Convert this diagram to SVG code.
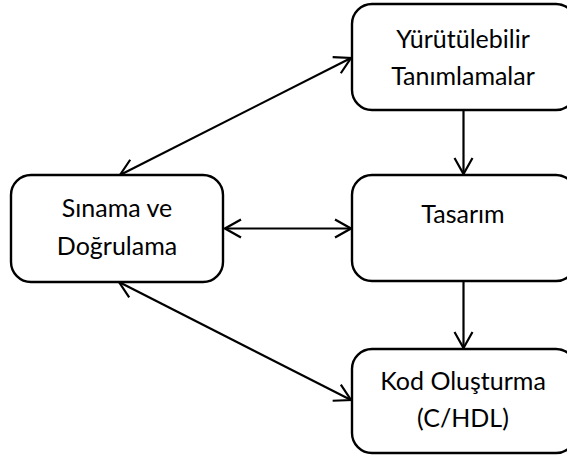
<svg xmlns="http://www.w3.org/2000/svg" width="567" height="457" viewBox="0 0 567 457">
  <style>
    .box { fill: #ffffff; stroke: #000000; stroke-width: 2.4; }
    .lbl { font-family: Lato, "Open Sans", "Liberation Sans", sans-serif; font-size: 25px; fill: #000000; text-anchor: middle; }
    .edge { stroke: #000000; stroke-width: 2.2; fill: none; }
  </style>
  <defs>
    <marker id="head" markerUnits="userSpaceOnUse" viewBox="-18 -11 20 22" markerWidth="20" markerHeight="22" refX="0" refY="0" orient="auto-start-reverse">
      <path d="M -16 -9 L 0 0 L -16 9" fill="none" stroke="#000000" stroke-width="2.2"/>
    </marker>
  </defs>

  <rect width="567" height="457" fill="#ffffff"/>

  <g id="connectors">
    <!-- spec to design -->
    <line class="edge" x1="463.5" y1="110" x2="463.5" y2="174" marker-end="url(#head)"/>
    <!-- design to code generation -->
    <line class="edge" x1="463.5" y1="281" x2="463.5" y2="348" marker-end="url(#head)"/>
    <!-- test/verification to design -->
    <line class="edge" x1="225" y1="228.5" x2="351" y2="228.5" marker-start="url(#head)" marker-end="url(#head)"/>
    <!-- test/verification to spec -->
    <line class="edge" x1="120" y1="175" x2="351" y2="58" marker-start="url(#head)" marker-end="url(#head)"/>
    <!-- test/verification to code generation -->
    <line class="edge" x1="119" y1="282" x2="351" y2="400" marker-start="url(#head)" marker-end="url(#head)"/>
  </g>

  <g id="spec">
    <rect class="box" x="352" y="4" width="224" height="106" rx="20" ry="20"/>
    <text class="lbl" x="463" y="48">Yürütülebilir</text>
    <text class="lbl" x="463" y="85">Tanımlamalar</text>
  </g>

  <g id="design">
    <rect class="box" x="352" y="175" width="224" height="106" rx="20" ry="20"/>
    <text class="lbl" x="463" y="223">Tasarım</text>
  </g>

  <g id="codegen">
    <rect class="box" x="352" y="349" width="224" height="104" rx="20" ry="20"/>
    <text class="lbl" x="463" y="390">Kod Oluşturma</text>
    <text class="lbl" x="463" y="427">(C/HDL)</text>
  </g>

  <g id="verify">
    <rect class="box" x="11" y="175" width="212" height="107" rx="20" ry="20"/>
    <text class="lbl" x="117" y="217">Sınama ve</text>
    <text class="lbl" x="117" y="255">Doğrulama</text>
  </g>
</svg>
